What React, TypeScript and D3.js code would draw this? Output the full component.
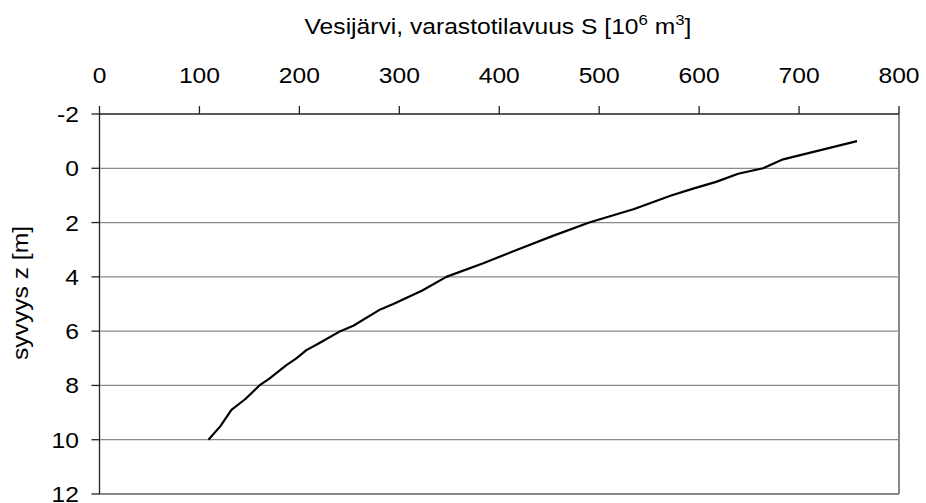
import React from "react";
import * as d3 from "d3";

// Storage volume S [10^6 m^3] versus depth z [m], Vesijärvi
const depthZ = [-1.0, -0.33, 0.0, 0.2, 0.5, 0.75, 1.0, 1.5, 2.0, 2.5, 3.0, 3.5, 4.0, 4.5, 5.0, 5.2, 5.8, 6.0, 6.5, 6.7, 7.0, 7.25, 7.75, 8.0, 8.5, 8.9, 9.5, 10.0];
const storageS = [758, 684, 664, 639, 617, 594, 572, 535, 490, 453, 418, 384, 347, 323, 294, 281, 254, 241, 217, 207, 197, 187, 170, 160, 146, 132, 121, 109];

const xTicks = [0, 100, 200, 300, 400, 500, 600, 700, 800];
const yTicks = [-2, 0, 2, 4, 6, 8, 10, 12];

const W = 926;
const H = 503;
const left = 99.5;
const right = 899;
const top = 114;
const bottom = 494;
const FONT = "'Liberation Sans', Arial, sans-serif";
const SX = 1.12; // wide glyphs

export default function App() {
  const x = d3.scaleLinear().domain([0, 800]).range([left, right]);
  const y = d3.scaleLinear().domain([-2, 12]).range([top, bottom]);

  const line = d3
    .line<number>()
    .x((_, i) => x(storageS[i]))
    .y((d) => y(d));

  return (
    <svg
      width={W}
      height={H}
      style={{ position: "absolute", left: 0, top: 0, background: "#fff" }}
      fontFamily={FONT}
    >
      <rect x={0} y={0} width={W} height={H} fill="#fff" />

      {/* horizontal gridlines */}
      {yTicks
        .filter((t) => t !== -2 && t !== 12)
        .map((t) => (
          <line key={"g" + t} x1={left} x2={right} y1={y(t)} y2={y(t)} stroke="#8a8a8a" strokeWidth={1.3} />
        ))}

      {/* plot area border (right and bottom) */}
      <line x1={right} x2={right} y1={top} y2={bottom} stroke="#888" strokeWidth={2} />
      <line x1={left} x2={right} y1={bottom} y2={bottom} stroke="#888" strokeWidth={2} />

      {/* top axis */}
      <line x1={left} x2={right} y1={top} y2={top} stroke="#222" strokeWidth={1.3} />
      {xTicks.map((t) => (
        <g key={"x" + t}>
          <line x1={x(t)} x2={x(t)} y1={top - 8} y2={top} stroke="#222" strokeWidth={1.3} />
          <g transform={`translate(${x(t)}, 83) scale(${SX}, 1)`}>
            <text x={0} y={0} textAnchor="middle" fontSize={22} fill="#000">
              {t}
            </text>
          </g>
        </g>
      ))}

      {/* left axis */}
      <line x1={left} x2={left} y1={top} y2={bottom} stroke="#222" strokeWidth={1.3} />
      {yTicks.map((t) => (
        <g key={"y" + t}>
          <line x1={left - 8} x2={left} y1={y(t)} y2={y(t)} stroke="#222" strokeWidth={1.3} />
          <g transform={`translate(79, ${y(t)}) scale(${SX}, 1)`}>
            <text x={0} y={0} dy="0.36em" textAnchor="end" fontSize={22} fill="#000">
              {t}
            </text>
          </g>
        </g>
      ))}

      {/* volume curve */}
      <path d={line(depthZ) ?? ""} fill="none" stroke="#000" strokeWidth={2.2} strokeLinejoin="round" />

      {/* axis titles */}
      <g transform={`translate(498, 34) scale(${SX}, 1)`}>
        <text x={0} y={0} textAnchor="middle" fontSize={22} fill="#000">
          Vesijärvi, varastotilavuus S [10
          <tspan fontSize={15} dy={-9}>6</tspan>
          <tspan dy={9}> m</tspan>
          <tspan fontSize={15} dy={-9}>3</tspan>
          <tspan dy={9}>]</tspan>
        </text>
      </g>
      <g transform={`translate(28, 293) rotate(-90) scale(${SX}, 1)`}>
        <text x={0} y={0} textAnchor="middle" fontSize={22} fill="#000">
          syvyys z [m]
        </text>
      </g>
    </svg>
  );
}
